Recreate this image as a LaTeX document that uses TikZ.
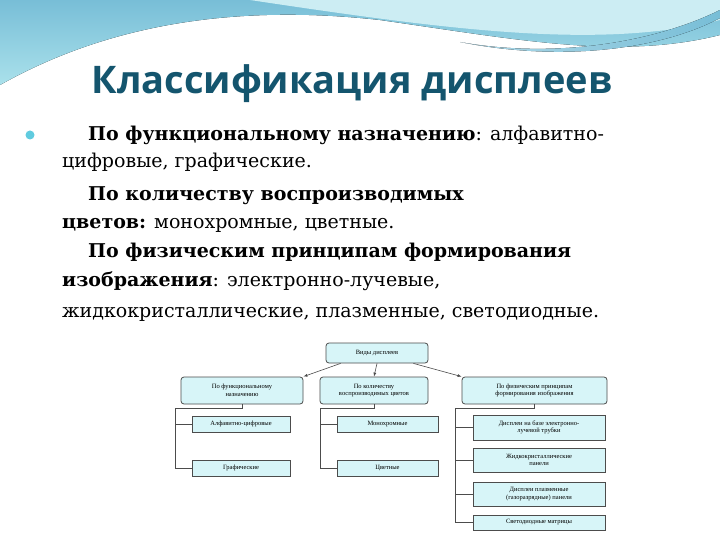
\documentclass[tikz,border=0pt]{standalone}
\usepackage{fontspec}
\setmainfont{DejaVu Serif}
\newfontfamily\titlefont{Open Sans}
\newfontfamily\boxfont{Liberation Serif}
\usetikzlibrary{arrows.meta}
\definecolor{titlec}{RGB}{20,85,110}
\definecolor{boxc}{RGB}{215,245,248}
\definecolor{wave1}{RGB}{120,190,215}
\definecolor{wave2}{RGB}{170,225,235}
\tikzset{
 ln/.style={anchor=base west,inner sep=0pt,font=\fontsize{19}{22}\selectfont},
 rb/.style={draw=black!70,fill=boxc,rounded corners=3pt,line width=0.8pt,align=center,font=\boxfont\fontsize{6.5}{7.5}\selectfont,inner sep=1pt},
 sb/.style={draw=black!70,fill=boxc,line width=0.8pt,align=center,font=\boxfont\fontsize{6.5}{7.5}\selectfont,inner sep=1pt},
 bus/.style={draw=black!70,line width=0.6pt},
 arr/.style={bus,-{Latex[length=4pt]}}
}
\begin{document}
\begin{tikzpicture}[x=1pt,y=-1pt]
\useasboundingbox (0,0) rectangle (720,540);
\fill[white] (0,0) rectangle (720,540);
% top wave
\fill[top color=wave1,bottom color=wave2] (0,0) -- (720,0) -- (720,35) .. controls (620,60) and (520,40) .. (380,20) .. controls (200,0) and (80,40) .. (0,85) -- cycle;
\fill[wave2!60!white] (250,0) -- (720,0) -- (720,20) .. controls (600,50) and (450,30) .. (250,0) -- cycle;
\fill[left color=wave1!60,right color=wave1] (460,42) .. controls (560,60) and (660,40) .. (720,10) -- (720,18) .. controls (660,50) and (560,62) .. (460,42) -- cycle;
\node[font=\titlefont\bfseries\fontsize{38}{44}\selectfont,text=titlec] (title) at (352,84) {Классификация дисплеев};
\fill[wave1!80!cyan] (30,135) circle (4.5);
\node[ln] (l1) at (88,141) {\textbf{По функциональному назначению}: алфавитно-};
\node[ln] (l2) at (62,168) {цифровые, графические.};
\node[ln] (l3) at (88,201) {\textbf{По количеству воспроизводимых}};
\node[ln] (l4) at (62,229) {\textbf{цветов:} монохромные, цветные.};
\node[ln] (l5) at (88,258) {\textbf{По физическим принципам формирования}};
\node[ln] (l6) at (62,286) {\textbf{изображения}: электронно-лучевые,};
\node[ln] (l7) at (62,317) {жидкокристаллические, плазменные, светодиодные.};
% diagram
\node[rb,minimum width=102,minimum height=20] (root) at (377,353) {Виды дисплеев};
\node[rb,minimum width=122,minimum height=27] (a) at (242,390.5) {По функциональному\\назначению};
\node[rb,minimum width=108,minimum height=27] (b) at (374,390.5) {По количеству\\воспроизводимых цветов};
\node[rb,minimum width=145,minimum height=27] (c) at (534.5,390.5) {По физическим принципам\\формирования изображения};
\node[sb,minimum width=98,minimum height=16] (a1) at (241,424) {Алфавитно-цифровые};
\node[sb,minimum width=98,minimum height=16] (a2) at (241,468) {Графические};
\node[sb,minimum width=101,minimum height=16] (b1) at (387.5,424) {Монохромные};
\node[sb,minimum width=101,minimum height=16] (b2) at (387.5,468) {Цветные};
\node[sb,minimum width=132,minimum height=25] (c1) at (539,427.5) {Дисплеи на базе электронно-\\лучевой трубки};
\node[sb,minimum width=132,minimum height=24] (c2) at (539,460) {Жидкокристаллические\\панели};
\node[sb,minimum width=132,minimum height=24] (c3) at (539,494) {Дисплеи плазменные\\(газоразрядные) панели};
\node[sb,minimum width=132,minimum height=15] (c4) at (539,522.5) {Светодиодные матрицы};
\draw[arr] (root.south west) ++(15,0) -- (a.north east);
\draw[arr] (root.south) -- (b.north);
\draw[arr] (root.south east) ++(-15,0) -- (c.north west);
\coordinate (ta) at (175,408);
\coordinate (tb) at (320,408);
\coordinate (tc) at (455,408);
\draw[bus] (a.south) -- (a.south |- ta) -- (ta) -- (ta |- a2) -- (a2.west);
\draw[bus] (ta |- a1) -- (a1.west);
\draw[bus] (b.south) -- (b.south |- tb) -- (tb) -- (tb |- b2) -- (b2.west);
\draw[bus] (tb |- b1) -- (b1.west);
\draw[bus] (c.south) -- (c.south |- tc) -- (tc) -- (tc |- c4) -- (c4.west);
\draw[bus] (tc |- c1) -- (c1.west);
\draw[bus] (tc |- c2) -- (c2.west);
\draw[bus] (tc |- c3) -- (c3.west);
\end{tikzpicture}
\end{document}
